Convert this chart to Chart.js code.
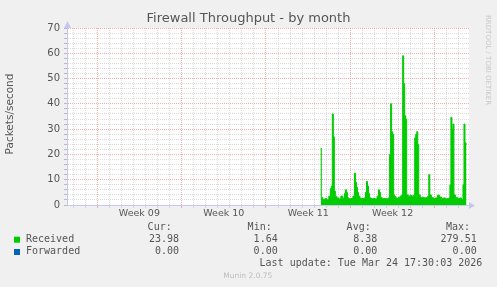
<!DOCTYPE html>
<html>
<head>
  <title>Firewall Throughput - by month</title>
  <script src="https://cdn.jsdelivr.net/npm/chart.js"></script>
  <style>
    body { margin: 0; background: #f0f0f0; }
    canvas { display: block; }
  </style>
</head>
<body>
  <canvas id="fwChart" width="497" height="287"></canvas>

  <script>
    // hours since the left edge of the month window
    const hours = [
      505, 507, 511, 515, 519, 523, 525, 527, 529, 531,
      533, 535, 539, 543, 547, 551, 553, 555, 557, 559,
      563, 567, 571, 573, 575, 577, 579, 581, 585, 589,
      593, 595, 597, 599, 601, 603, 607, 611, 615, 619,
      621, 623, 625, 629, 633, 637, 641, 643, 645, 647,
      649, 651, 653, 657, 661, 665, 667, 669, 671, 673,
      675, 677, 681, 685, 689, 691, 693, 695, 697, 699,
      701, 705, 709, 713, 717, 719, 721, 723, 727, 731,
      735, 739, 743, 747, 751, 755, 759, 761, 763, 765,
      767, 769, 771, 775, 779, 783, 787, 789, 791, 793,
      795
    ];
    // packets/second, received
    const received = [
      22.5, 3.0, 2.2, 2.5, 2.1, 3.5, 6.5, 7.5, 36, 27,
      5.5, 3.5, 2.8, 2.4, 3.5, 2.6, 4.5, 6.0, 5.0, 2.8,
      2.4, 2.6, 3.5, 12.6, 9.0, 7.0, 5.0, 3.5, 2.6, 2.5,
      2.8, 5.0, 9.3, 7.5, 4.5, 2.8, 2.5, 2.6, 2.4, 3.5,
      6.0, 5.0, 3.0, 2.5, 2.6, 2.4, 2.8, 20, 40, 29,
      28, 4.0, 3.3, 2.6, 3.0, 3.5, 4.0, 59, 48, 35.3,
      34, 4.0, 3.5, 3.8, 3.2, 4.0, 26.6, 28, 29, 24,
      4.0, 3.0, 3.0, 2.8, 3.0, 3.5, 12, 4.0, 3.0, 2.6,
      2.8, 3.9, 3.2, 2.6, 2.8, 2.4, 2.6, 2.8, 8, 34.7,
      30, 32, 4.0, 3.0, 2.6, 2.8, 2.2, 8, 32, 24.6,
      24
    ];
    const forwardedHours = [505, 795];
    const forwarded = [0, 0];

    const weekLabels = ['Week 09', 'Week 10', 'Week 11', 'Week 12'];
    const statLabels = ['Cur:', 'Min:', 'Avg:', 'Max:'];
    const receivedStats = ['23.98', '1.64', '8.38', '279.51'];
    const forwardedStats = ['0.00', '0.00', '0.00', '0.00'];
    const lastUpdate = 'Last update: Tue Mar 24 17:30:03 2026';

    const RED = 'rgba(225,110,110,0.55)';
    const GRAY = 'rgba(170,170,170,0.42)';
    const AXIS = '#c6c6f2';
    const TXT = '#555';

    // background, titles, arrows and the munin legend table
    const muninDecor = {
      id: 'muninDecor',
      beforeDraw(chart) {
        const {ctx, chartArea: a} = chart;
        ctx.save();
        ctx.fillStyle = '#f0f0f0';
        ctx.fillRect(0, 0, chart.width, chart.height);
        ctx.fillStyle = '#ffffff';
        ctx.fillRect(a.left, a.top, a.right - a.left, a.bottom - a.top);
        ctx.restore();
      },
      afterDraw(chart) {
        const {ctx, chartArea: a} = chart;
        ctx.save();
        ctx.fillStyle = TXT;
        ctx.textBaseline = 'middle';

        ctx.font = '13px "DejaVu Sans"';
        ctx.textAlign = 'center';
        ctx.fillText('Firewall Throughput - by month', 248.5, 19);

        ctx.save();
        ctx.translate(10.5, 114);
        ctx.rotate(-Math.PI / 2);
        ctx.font = '10.5px "DejaVu Sans"';
        ctx.fillText('Packets/second', 0, 0);
        ctx.restore();

        ctx.save();
        ctx.translate(488, 15);
        ctx.rotate(Math.PI / 2);
        ctx.textAlign = 'left';
        ctx.font = '7px "DejaVu Sans"';
        ctx.fillStyle = '#c8c8c8';
        ctx.fillText('RRDTOOL / TOBI OETIKER', 0, 0);
        ctx.restore();

        // axis arrows
        ctx.fillStyle = AXIS;
        ctx.beginPath();
        ctx.moveTo(a.left - 3, a.top);
        ctx.lineTo(a.left + 0.5, a.top - 7);
        ctx.lineTo(a.left + 4, a.top);
        ctx.fill();
        ctx.beginPath();
        ctx.moveTo(a.right, a.bottom - 3);
        ctx.lineTo(a.right + 6, a.bottom + 0.5);
        ctx.lineTo(a.right, a.bottom + 4);
        ctx.fill();

        // legend table
        ctx.font = '10px "DejaVu Sans Mono"';
        ctx.fillStyle = TXT;
        ctx.textAlign = 'right';
        const headRight = [171.7, 271.7, 370.7, 470];
        const valRight = [179, 277.7, 377.3, 476.7];
        statLabels.forEach((s, i) => ctx.fillText(s, headRight[i], 227.7));
        receivedStats.forEach((s, i) => ctx.fillText(s, valRight[i], 239.5));
        forwardedStats.forEach((s, i) => ctx.fillText(s, valRight[i], 251.7));
        ctx.fillText(lastUpdate, 482.3, 263.3);

        ctx.textAlign = 'left';
        ctx.fillText('Received', 26, 239.5);
        ctx.fillText('Forwarded', 26, 251.7);
        ctx.fillStyle = '#00cc00';
        ctx.fillRect(14, 236.7, 6, 6);
        ctx.fillStyle = '#0066b3';
        ctx.fillRect(14, 249, 6, 6);

        ctx.textAlign = 'center';
        ctx.fillStyle = '#bdbdbd';
        ctx.font = '7.5px "DejaVu Sans"';
        ctx.fillText('Munin 2.0.75', 247.8, 276);
        ctx.restore();
      }
    };

    function dayGrid(c) {
      const v = c.tick.value;
      if ((v - 12) % 24 !== 0) return 'rgba(0,0,0,0)';
      return (v - 60) % 168 === 0 ? RED : GRAY;
    }

    const ctx = document.getElementById('fwChart').getContext('2d');
    const chart = new Chart(ctx, {
      type: 'line',
      data: {
        datasets: [{
          label: 'Received',
          data: hours.map((h, i) => ({x: h, y: received[i]})),
          borderColor: '#00cc00',
          backgroundColor: '#00cc00',
          borderWidth: 1,
          fill: 'origin',
          pointRadius: 0,
          stepped: 'middle'
        }, {
          label: 'Forwarded',
          data: forwardedHours.map((h, i) => ({x: h, y: forwarded[i]})),
          borderColor: '#0066b3',
          borderWidth: 0,
          pointRadius: 0,
          fill: false
        }]
      },
      options: {
        responsive: false,
        animation: false,
        layout: { padding: { left: 0, top: 28, right: 28, bottom: 62 } },
        plugins: {
          legend: { display: false },
          title: { display: false },
          tooltip: { enabled: false }
        },
        scales: {
          x: {
            type: 'linear',
            min: 0,
            max: 800,
            afterBuildTicks: (s) => {
              s.ticks = [];
              for (let v = 0; v <= 792; v += 12) s.ticks.push({value: v});
            },
            afterFit: (s) => { s.height = 20; },
            ticks: {
              autoSkip: false,
              maxRotation: 0,
              padding: 0,
              color: TXT,
              font: { family: 'DejaVu Sans', size: 9.5 },
              callback: (v) => (v >= 144 && (v - 144) % 168 === 0) ? weekLabels[(v - 144) / 168] : ''
            },
            grid: {
              color: dayGrid,
              tickColor: dayGrid,
              tickLength: 3,
              tickBorderDash: []
            },
            border: { color: AXIS, dash: [1, 1] }
          },
          y: {
            min: 0,
            max: 70,
            afterFit: (s) => { s.width = 67; },
            ticks: {
              stepSize: 2,
              autoSkip: false,
              padding: 4,
              color: TXT,
              font: { family: 'DejaVu Sans', size: 10 },
              callback: (v) => v % 10 === 0 ? String(v) : ''
            },
            grid: {
              color: (c) => c.tick.value % 10 === 0 ? RED : GRAY,
              tickColor: 'rgba(150,150,150,0.6)',
              tickLength: 3,
              tickBorderDash: []
            },
            border: { color: AXIS, dash: [1, 1] }
          }
        }
      },
      plugins: [muninDecor]
    });
  </script>
</body>
</html>
